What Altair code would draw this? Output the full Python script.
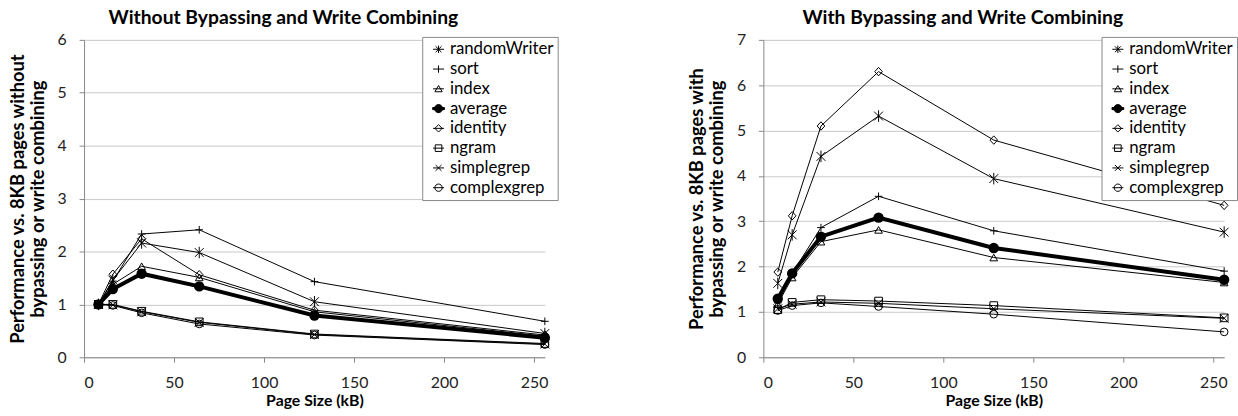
import altair as alt
import pandas as pd

page_sizes = [8, 16, 32, 64, 128, 256]
series_names = ["randomWriter", "sort", "index", "average", "identity", "ngram", "simplegrep", "complexgrep"]

# Without bypassing and write combining
wo_randomWriter = [1.00, 1.46, 2.16, 1.98, 1.05, 0.45]
wo_sort = [1.00, 1.44, 2.33, 2.41, 1.43, 0.68]
wo_index = [1.00, 1.38, 1.72, 1.51, 0.86, 0.40]
wo_average = [1.00, 1.29, 1.58, 1.34, 0.79, 0.37]
wo_identity = [1.00, 1.57, 2.24, 1.56, 0.89, 0.42]
wo_ngram = [1.00, 1.00, 0.87, 0.67, 0.44, 0.26]
wo_simplegrep = [1.00, 0.99, 0.86, 0.66, 0.43, 0.25]
wo_complexgrep = [1.00, 0.98, 0.84, 0.63, 0.42, 0.24]

# With bypassing and write combining
w_randomWriter = [1.63, 2.70, 4.43, 5.32, 3.94, 2.76]
w_sort = [1.20, 1.85, 2.86, 3.55, 2.79, 1.90]
w_index = [1.17, 1.76, 2.55, 2.81, 2.20, 1.65]
w_average = [1.29, 1.85, 2.66, 3.08, 2.41, 1.71]
w_identity = [1.88, 3.12, 5.10, 6.30, 4.79, 3.35]
w_ngram = [1.05, 1.21, 1.27, 1.24, 1.14, 0.87]
w_simplegrep = [1.07, 1.17, 1.22, 1.19, 1.07, 0.86]
w_complexgrep = [1.03, 1.14, 1.20, 1.12, 0.95, 0.56]

x_ticks = [0, 50, 100, 150, 200, 250]

FONT = "Lato"

wo_series = [wo_randomWriter, wo_sort, wo_index, wo_average, wo_identity, wo_ngram, wo_simplegrep, wo_complexgrep]
w_series = [w_randomWriter, w_sort, w_index, w_average, w_identity, w_ngram, w_simplegrep, w_complexgrep]


def to_frame(series_lists):
    rows = []
    for name, vals in zip(series_names, series_lists):
        for p, v in zip(page_sizes, vals):
            rows.append({"series": name, "page": p, "value": v})
    return pd.DataFrame(rows)


plot_names = [s for s in series_names if s != "average"]
plot_shapes = {
    "randomWriter": "M-1,-1L1,1M-1,1L1,-1M0,-1.3L0,1.3",
    "sort": "M-1,0L1,0M0,-1L0,1",
    "index": "triangle-up",
    "identity": "M0,-1.1L1,0L0,1.1L-1,0Z",
    "ngram": "square",
    "simplegrep": "M-1,-1L1,1M-1,1L1,-1",
    "complexgrep": "circle",
}
legend_shapes = [
    "M-1.5,0L1.5,0M-0.8,-0.8L0.8,0.8M-0.8,0.8L0.8,-0.8M0,-1L0,1",
    "M-1.5,0L1.5,0M0,-1L0,1",
    "M-1.5,0L1.5,0M0,-0.9L1,0.8L-1,0.8Z",
    "M-1.6,-0.28L1.6,-0.28L1.6,0.28L-1.6,0.28ZM1.1,0A1.1,1.1 0 1,1 -1.1,0A1.1,1.1 0 1,1 1.1,0Z",
    "M-1.5,0L1.5,0M0,-1L1,0L0,1L-1,0Z",
    "M-1.5,0L1.5,0M-0.9,-0.9L0.9,-0.9L0.9,0.9L-0.9,0.9Z",
    "M-1.5,0L1.5,0M-0.8,-0.8L0.8,0.8M-0.8,0.8L0.8,-0.8",
    "M-1.5,0L1.5,0M1,0A1,1 0 1,1 -1,0A1,1 0 1,1 1,0Z",
]
legend_fills = ["transparent", "transparent", "transparent", "black",
                "transparent", "transparent", "transparent", "transparent"]


def panel(df, title, ymax, ytitle):
    base = alt.Chart(df).encode(
        x=alt.X("page:Q",
                scale=alt.Scale(domain=[0, 256], nice=False, zero=True),
                axis=alt.Axis(values=x_ticks, title="Page Size (kB)", grid=False,
                              labelPadding=13, titlePadding=2)),
        y=alt.Y("value:Q",
                scale=alt.Scale(domain=[0, ymax], nice=False),
                axis=alt.Axis(values=list(range(ymax + 1)), title=ytitle, grid=True,
                              labelPadding=13, titlePadding=10, titleLineHeight=20,
                              titleFontSize=18.5)),
    )
    lines = base.mark_line(color="black").encode(
        detail="series:N",
        strokeWidth=alt.condition(alt.datum.series == "average", alt.value(4), alt.value(1)),
    )
    pts = base.mark_point(filled=False, color="black", strokeWidth=1, opacity=1).transform_filter(
        alt.datum.series != "average"
    ).encode(
        shape=alt.Shape("series:N",
                        scale=alt.Scale(domain=plot_names, range=[plot_shapes[n] for n in plot_names]),
                        legend=None),
        size=alt.condition(
            alt.FieldOneOfPredicate(field="series", oneOf=["randomWriter", "simplegrep"]),
            alt.value(80), alt.value(60)),
    )
    avg = base.mark_circle(color="black", size=110, opacity=1).transform_filter(
        alt.datum.series == "average"
    )
    leg_def = alt.Legend(
        title=None, orient="none", legendX=342, legendY=-3,
        strokeColor="#888888", fillColor="white", padding=4,
        labelFont=FONT, labelFontSize=17, labelColor="black", labelOffset=3,
        symbolSize=55, rowPadding=2, symbolStrokeWidth=1, symbolOffset=4,
    )
    leg = base.mark_point(filled=False, color="black", strokeWidth=1, opacity=1).transform_filter(
        "false"
    ).encode(
        shape=alt.Shape("series:N", scale=alt.Scale(domain=series_names, range=legend_shapes), legend=leg_def),
        fill=alt.Fill("series:N", scale=alt.Scale(domain=series_names, range=legend_fills), legend=leg_def),
    )
    return alt.layer(lines, pts, avg, leg).resolve_scale(
        shape="independent", fill="independent"
    ).properties(
        width=466, height=321,
        title=alt.TitleParams(title, font=FONT, fontSize=19.5, fontWeight="bold", color="black",
                              anchor="middle", frame="bounds", offset=4),
    )


left = panel(to_frame(wo_series), "Without Bypassing and Write Combining", 6,
             ["Performance vs. 8KB pages  without", "bypassing or write combining"])
right = panel(to_frame(w_series), "With Bypassing and Write Combining", 7,
              ["Performance vs. 8KB pages  with", "bypassing or write combining"])

chart = alt.hconcat(left, right, spacing=130).resolve_scale(
    shape="independent", fill="independent"
).resolve_legend(shape="independent", fill="independent").properties(
    padding={"left": 8, "top": 5, "right": 0, "bottom": 0}
).configure_view(strokeWidth=0).configure_axis(
    labelFont=FONT, labelFontSize=16, labelColor="#222222",
    titleFont=FONT, titleFontSize=16, titleFontWeight="bold", titleColor="black",
    domainColor="#888888", tickColor="#888888", tickSize=5, gridColor="#C8C8C8",
)

chart.save("out.html", embed_options={"renderer": "svg", "actions": False})
